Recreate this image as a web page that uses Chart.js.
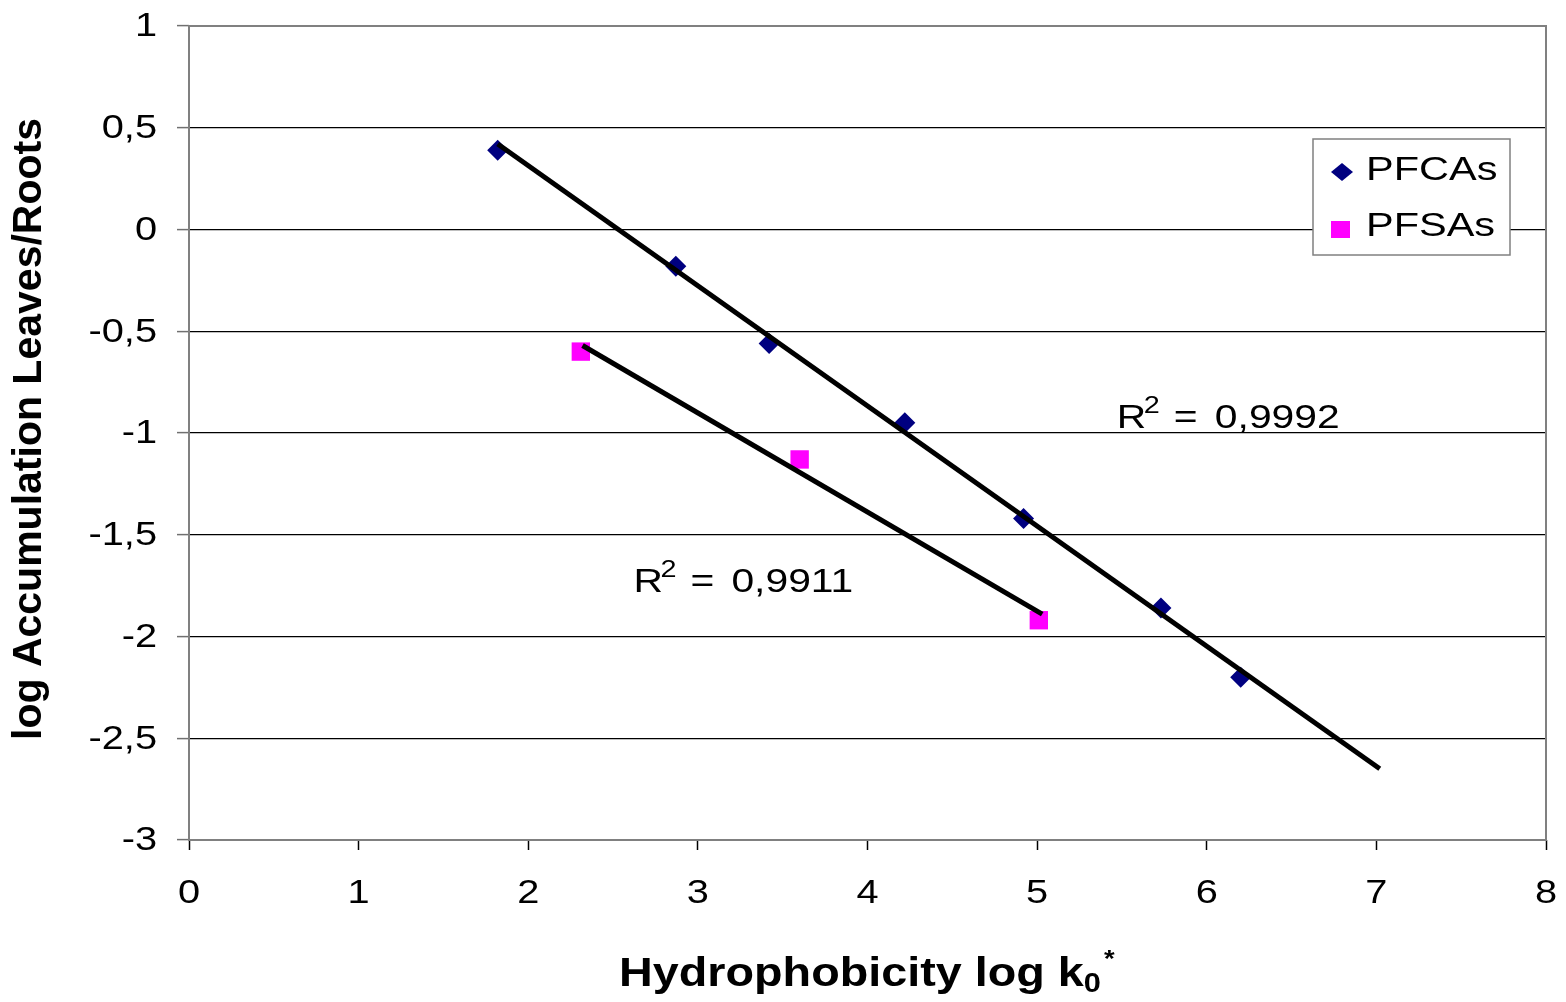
<!DOCTYPE html>
<html>
<head>
<meta charset="utf-8">
<script src="https://cdn.jsdelivr.net/npm/chart.js@4.4.1/dist/chart.umd.min.js"></script>
<style>
  html, body { margin: 0; padding: 0; background: #fff; overflow: hidden; }
  #wrap { width: 1566px; height: 1002px; }
</style>
</head>
<body>
<div id="wrap"><canvas id="chart"></canvas></div>
<script>
// measured points
var pfcaX = [1.82, 2.87, 3.42, 4.22, 4.92, 5.73, 6.20];
var pfcaY = [0.39, -0.18, -0.56, -0.95, -1.42, -1.86, -2.20];
var pfsaX = [2.31, 3.60, 5.01];
var pfsaY = [-0.60, -1.13, -1.92];

// trend line ends
var pfcaFitX = [1.82, 7.02];
var pfcaFitY = [0.42, -2.65];
var pfsaFitX = [2.32, 5.03];
var pfsaFitY = [-0.57, -1.89];

// R² labels and where they sit (data units)
var r2Values = ["0,9992", "0,9911"];
var r2AtX = [5.47, 2.62];
var r2AtY = [-0.975, -1.78];

var seriesNames = ["PFCAs", "PFSAs"];
var xTitle = "Hydrophobicity log k";
var yTitle = "log Accumulation Leaves/Roots";

var FONT = '"Liberation Sans", Arial, sans-serif';
var SX = 1.2; // the original's plain text is drawn wide

function toPoints(xs, ys) {
  return xs.map(function (x, i) { return { x: x, y: ys[i] }; });
}

function commaNum(v) {
  return String(v).replace('.', ',');
}

function wideText(ctx, txt, x, y, align, sx) {
  sx = sx || SX;
  ctx.save();
  ctx.translate(x, y);
  ctx.scale(sx, 1);
  ctx.textAlign = align;
  ctx.fillText(txt, 0, 0);
  ctx.restore();
  return ctx.measureText(txt).width * sx;
}

function diamond(ctx, x, y, hw, hh, color) {
  ctx.fillStyle = color;
  ctx.beginPath();
  ctx.moveTo(x, y - hh);
  ctx.lineTo(x + hw, y);
  ctx.lineTo(x, y + hh);
  ctx.lineTo(x - hw, y);
  ctx.closePath();
  ctx.fill();
}

var decor = {
  id: 'decor',
  afterDraw: function (chart) {
    var ctx = chart.ctx, a = chart.chartArea;
    var xs = chart.scales.x, ys = chart.scales.y;
    ctx.save();

    // plot frame
    ctx.strokeStyle = '#808080';
    ctx.lineWidth = 2;
    ctx.strokeRect(a.left, a.top, a.right - a.left, a.bottom - a.top);

    // tick labels
    ctx.fillStyle = '#000';
    ctx.font = '34px ' + FONT;
    ctx.textBaseline = 'middle';
    ys.ticks.forEach(function (t) {
      wideText(ctx, commaNum(t.value), a.left - 32, ys.getPixelForValue(t.value) + 1, 'right', 1.17);
    });
    ctx.textBaseline = 'alphabetic';
    xs.ticks.forEach(function (t) {
      wideText(ctx, commaNum(t.value), xs.getPixelForValue(t.value), a.bottom + 63, 'center', 1.17);
    });

    // R² labels
    r2Values.forEach(function (v, i) {
      var x = xs.getPixelForValue(r2AtX[i]);
      var y = ys.getPixelForValue(r2AtY[i]);
      ctx.font = '34px ' + FONT;
      wideText(ctx, 'R', x, y, 'left');
      ctx.font = '24px ' + FONT;
      wideText(ctx, '2', x + 27, y - 15, 'left');
      ctx.font = '34px ' + FONT;
      wideText(ctx, '=', x + 57, y, 'left');
      wideText(ctx, v, x + 98, y, 'left');
    });

    // legend
    var lx = a.right - 233, ly = 139, lw = 197, lh = 116;
    ctx.fillStyle = '#fff';
    ctx.fillRect(lx, ly, lw, lh);
    ctx.strokeStyle = '#808080';
    ctx.lineWidth = 1.5;
    ctx.strokeRect(lx, ly, lw, lh);
    var ds = chart.data.datasets;
    diamond(ctx, lx + 29, ly + 33, 11, 9, ds[2].backgroundColor);
    ctx.fillStyle = ds[3].backgroundColor;
    ctx.fillRect(lx + 18, ly + 82, 19, 17);
    ctx.fillStyle = '#000';
    ctx.font = '34px ' + FONT;
    ctx.textBaseline = 'alphabetic';
    wideText(ctx, seriesNames[0], lx + 53, ly + 41, 'left', 1.22);
    wideText(ctx, seriesNames[1], lx + 53, ly + 97, 'left', 1.22);

    // x title with subscript and superscript
    var tsx = 1.14;
    ctx.font = 'bold 41px ' + FONT;
    var tx = a.left + 430, tb = 986;
    var w = wideText(ctx, xTitle, tx, tb, 'left', tsx);
    ctx.font = 'bold 27px ' + FONT;
    var w0 = wideText(ctx, '0', tx + w, tb + 6, 'left', tsx);
    ctx.font = 'bold 24px ' + FONT;
    wideText(ctx, '*', tx + w + w0 + 3, tb - 19, 'left', tsx);

    // y title
    ctx.font = 'bold 41px ' + FONT;
    ctx.translate(41, (a.top + a.bottom) / 2 - 4);
    ctx.rotate(-Math.PI / 2);
    ctx.textAlign = 'center';
    ctx.fillText(yTitle, 0, 0);

    ctx.restore();
  }
};

var ctx = document.getElementById("chart").getContext("2d");
var chart = new Chart(ctx, {
  type: "scatter",
  data: {
    datasets: [
      {
        type: "line", label: "fit PFCAs", data: toPoints(pfcaFitX, pfcaFitY),
        borderColor: "#000", borderWidth: 5, pointRadius: 0, showLine: true, fill: false, order: 0
      },
      {
        type: "line", label: "fit PFSAs", data: toPoints(pfsaFitX, pfsaFitY),
        borderColor: "#000", borderWidth: 5, pointRadius: 0, showLine: true, fill: false, order: 0
      },
      {
        label: seriesNames[0], data: toPoints(pfcaX, pfcaY),
        backgroundColor: "#000080", borderColor: "#000080", borderWidth: 0,
        pointStyle: "rectRot", pointRadius: 10.5, order: 1
      },
      {
        label: seriesNames[1], data: toPoints(pfsaX, pfsaY),
        backgroundColor: "#FF00FF", borderColor: "#FF00FF", borderWidth: 0,
        pointStyle: "rect", pointRadius: 13, order: 1
      }
    ]
  },
  options: {
    responsive: true,
    maintainAspectRatio: false,
    animation: false,
    layout: { padding: { top: 26, right: 20, bottom: 0, left: 0 } },
    plugins: { legend: { display: false }, tooltip: { enabled: false } },
    scales: {
      x: {
        type: "linear", min: 0, max: 8,
        ticks: { stepSize: 1, display: false },
        grid: { drawOnChartArea: false, drawTicks: true, tickLength: 10, tickColor: "#000", tickWidth: 1.5 },
        border: { display: false },
        afterFit: function (s) { s.height = 162; }
      },
      y: {
        type: "linear", min: -3, max: 1,
        ticks: { stepSize: 0.5, display: false },
        grid: { color: "#000", lineWidth: 1.2, drawTicks: true, tickLength: 12, tickColor: "#707070", tickWidth: 1.5 },
        border: { display: false },
        afterFit: function (s) { s.width = 189; }
      }
    }
  },
  plugins: [decor]
});
</script>
</body>
</html>
